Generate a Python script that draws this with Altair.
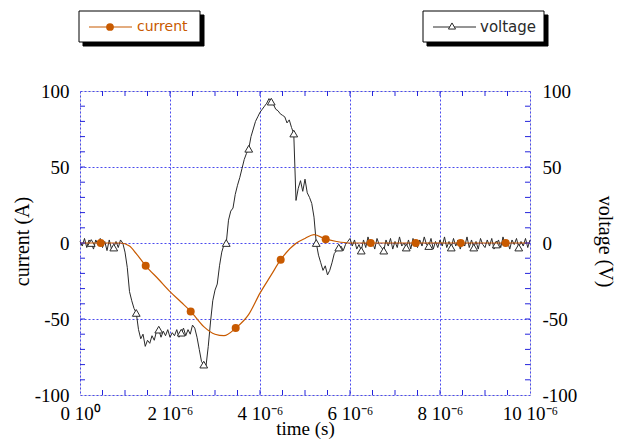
import altair as alt
import pandas as pd

# ---------------- data ----------------
# voltage trace, one sample every 0.05 microseconds from 0 to 10 us (V)
VOLT_STEP_US = 0.05
VOLTAGE = [
    1, -2, 3, -3, 2, 0, -4, 2, -1, 3,            # 0.00 - 0.45
    -3, 1, -5, 2, -4, -3, 1, -3, 2, 0,           # 0.50 - 0.95
    -6, -16, -32, -38, -43, -46, -57, -63, -60, -68,   # 1.00 - 1.45
    -64, -66, -61, -64, -58, -57, -62, -58, -61, -57,  # 1.50 - 1.95
    -62, -59, -61, -57, -62, -59, -56, -61, -57, -60,  # 2.00 - 2.45
    -54, -56, -62, -70, -78, -80, -81, -68, -52, -38,  # 2.50 - 2.95
    -31, -27, -15, -6, -1, 0, 15, 21, 23, 32,          # 3.00 - 3.45
    38, 43, 49, 55, 59, 62, 70, 75, 80, 83,            # 3.50 - 3.95
    86, 88, 90, 92, 95, 93, 91, 88, 87, 85,            # 4.00 - 4.45
    84, 83, 79, 81, 76, 72, 28, 36, 41, 34,            # 4.50 - 4.95
    42, 33, 30, 26, 17, 0, -8, -13, -18, -15,          # 5.00 - 5.45
    -21, -18, -13, -7, -5, -3, -2, -5, -1, 1,          # 5.50 - 5.95
    3, -2, 2, -4, -1, -5, 2, -3, 4, -2,                # 6.00 - 6.45
    1, -4, 3, -1, -3, -5, 2, -2, 3, -4,                # 6.50 - 6.95
    1, -3, 4, -2, 0, -3, 2, -4, 3, -1,                 # 7.00 - 7.45
    -3, 2, -2, 4, -1, -2, 3, -4, 1, -3,                # 7.50 - 7.95
    2, -2, 4, -3, 1, -3, 3, -2, 2, -4,                 # 8.00 - 8.45
    1, -2, 4, -3, 2, -3, 1, -4, 3, -1,                 # 8.50 - 8.95
    -3, 2, -2, 3, -4, -1, 2, -3, 4, -2,                # 9.00 - 9.45
    1, -4, 2, -1, 3, -3, 1, -2, 3, -3,                 # 9.50 - 9.95
    2,                                                 # 10.00
]
VOLT_MARK_FIRST = 5     # first sample carrying a triangle
VOLT_MARK_EVERY = 10    # a triangle every 10 samples (0.5 us)

# current trace (A), smooth curve
CUR_T = [0, 0.46, 0.9, 1.1, 1.25, 1.46, 1.75, 2.0, 2.25, 2.46, 2.75, 3.0, 3.2,
         3.46, 3.75, 4.0, 4.25, 4.46, 4.81, 5.0, 5.2, 5.46, 5.7, 6.0, 6.46,
         7.46, 8.46, 9.46, 10.0]
CUR_V = [0, 0, 0, -2, -7, -15, -24, -32, -39, -45, -55, -60, -61,
         -56, -47, -33, -21, -11, 0, 3, 5.5, 2.5, 1, 0, 0,
         0, 0, 0, 0]
CUR_MARK_T = [0.46, 1.46, 2.46, 3.46, 4.46, 5.46, 6.46, 7.46, 8.46, 9.46]

X_TICKS = [0, 2, 4, 6, 8, 10]
X_MINOR = [0.5, 1, 1.5, 2.5, 3, 3.5, 4.5, 5, 5.5, 6.5, 7, 7.5, 8.5, 9, 9.5]
Y_TICKS = [-100, -50, 0, 50, 100]
Y_MINOR = [-90, -80, -70, -60, -40, -30, -20, -10, 10, 20, 30, 40, 60, 70, 80, 90]

# ---------------- styling ----------------
ORANGE = "#c85a00"
DARK = "#2a2a2a"
BLUE = "#2424dc"
GRID = "#4a4aee"
SERIF = "Liberation Serif"
LFS = 19   # tick label size
TFS = 20   # axis title size
W, H = 450, 304

vdf = pd.DataFrame({
    "t": [round(i * VOLT_STEP_US, 2) for i in range(len(VOLTAGE))],
    "v": VOLTAGE,
})
vdf["mark"] = [(i - VOLT_MARK_FIRST) % VOLT_MARK_EVERY == 0 for i in range(len(VOLTAGE))]
cdf = pd.DataFrame({"t": CUR_T, "v": CUR_V})
cmdf = cdf[cdf["t"].isin(CUR_MARK_T)]

xscale = alt.Scale(domain=[0, 10], nice=False, zero=False)
yscale = alt.Scale(domain=[-100, 100], nice=False, zero=False)

x_axis = alt.Axis(
    values=X_TICKS, grid=True, gridColor=GRID, gridDash=[2, 2], gridWidth=1,
    ticks=False, domain=False, labelFlush=False,
    labelExpr="datum.value == 0 ? '0 10\u2070' : datum.value + ' 10\u207b\u2076'",
    labelFont=SERIF, labelFontSize=LFS, labelColor="black", labelPadding=9,
    title="time (s)", titleFont=SERIF, titleFontSize=19, titleFontWeight="normal",
    titleColor="black", titleX=W / 2, titleY=33, titleBaseline="middle",
)
X = alt.X("t:Q", scale=xscale, axis=x_axis)

left_axis = alt.Axis(
    orient="left", values=Y_TICKS, grid=True, gridColor=GRID, gridDash=[2, 2],
    gridWidth=1, ticks=False, domain=False, labelFlush=False,
    labelExpr="'' + datum.value",
    labelFont=SERIF, labelFontSize=LFS, labelColor="black", labelPadding=11,
    title="current (A)", titleFont=SERIF, titleFontSize=TFS, titleFontWeight="normal",
    titleColor="black", titleAngle=-90, titleX=-58, titleY=150,
    titleBaseline="middle", titleAlign="center",
)
right_axis = alt.Axis(
    orient="right", values=Y_TICKS, grid=False, ticks=False, domain=False,
    labelFlush=False, labelExpr="'' + datum.value",
    labelFont=SERIF, labelFontSize=LFS, labelColor="black", labelPadding=12,
    title="voltage (V)", titleFont=SERIF, titleFontSize=TFS, titleFontWeight="normal",
    titleColor="black", titleAngle=90, titleX=74, titleY=150,
    titleBaseline="middle", titleAlign="center",
)

volt_line = alt.Chart(vdf).mark_line(color=DARK, strokeWidth=1).encode(
    x=X, y=alt.Y("v:Q", scale=yscale, axis=right_axis)
)
volt_pts = alt.Chart(vdf).transform_filter("datum.mark").mark_point(
    shape="triangle-up", filled=True, fill="white", stroke=DARK, strokeWidth=1,
    size=60, opacity=1
).encode(x=X, y=alt.Y("v:Q", scale=yscale, axis=None))

cur_line = alt.Chart(cdf).mark_line(color=ORANGE, strokeWidth=1.2, interpolate="monotone").encode(
    x=X, y=alt.Y("v:Q", scale=yscale, axis=left_axis)
)
cur_pts = alt.Chart(cmdf).mark_circle(color=ORANGE, size=64, opacity=1).encode(
    x=X, y=alt.Y("v:Q", scale=yscale, axis=None)
)

# inward tick marks on the four sides
xt = pd.DataFrame({"t": X_MINOR + X_TICKS[1:-1]})
yt = pd.DataFrame({"v": Y_MINOR + [-50, 0, 50]})
top_ticks = alt.Chart(xt).mark_rule(color=BLUE, strokeWidth=1).encode(
    x=X, y=alt.value(0), y2=alt.value(5))
bot_ticks = alt.Chart(xt).mark_rule(color=BLUE, strokeWidth=1).encode(
    x=X, y=alt.value(H - 5), y2=alt.value(H))
left_ticks = alt.Chart(yt).mark_rule(color=BLUE, strokeWidth=1).encode(
    y=alt.Y("v:Q", scale=yscale, axis=None), x=alt.value(0), x2=alt.value(5))
right_ticks = alt.Chart(yt).mark_rule(color=BLUE, strokeWidth=1).encode(
    y=alt.Y("v:Q", scale=yscale, axis=None), x=alt.value(W - 5), x2=alt.value(W))

# legend boxes above the plot
one = pd.DataFrame({"k": [0]})
def box(x0, x1, y0, y1, fill, stroke):
    return alt.Chart(one).mark_rect(fill=fill, stroke=stroke, strokeWidth=1).encode(
        x=alt.value(x0), x2=alt.value(x1), y=alt.value(y0), y2=alt.value(y1))

LEG_Y = -64
legend = [
    box(3, 124, -76, -45, "black", "black"),
    box(-1, 120, -80, -49, "white", "black"),
    alt.Chart(one).mark_rule(color=ORANGE, strokeWidth=1.2).encode(
        x=alt.value(9), x2=alt.value(52), y=alt.value(LEG_Y)),
    alt.Chart(one).mark_circle(color=ORANGE, size=60, opacity=1).encode(
        x=alt.value(30), y=alt.value(LEG_Y)),
    alt.Chart(one).mark_text(align="left", baseline="middle", font="DejaVu Sans",
                             fontSize=14, color=ORANGE).encode(
        x=alt.value(57), y=alt.value(LEG_Y), text=alt.value("current")),
    box(347, 468, -76, -45, "black", "black"),
    box(343, 464, -80, -49, "white", "black"),
    alt.Chart(one).mark_rule(color=DARK, strokeWidth=1).encode(
        x=alt.value(353), x2=alt.value(396), y=alt.value(LEG_Y)),
    alt.Chart(one).mark_point(shape="triangle-up", filled=True, fill="white",
                              stroke=DARK, strokeWidth=1, size=50, opacity=1).encode(
        x=alt.value(372), y=alt.value(LEG_Y - 1)),
    alt.Chart(one).mark_text(align="left", baseline="middle", font="DejaVu Sans",
                             fontSize=15, color=DARK).encode(
        x=alt.value(400), y=alt.value(LEG_Y), text=alt.value("voltage")),
]

chart = alt.layer(
    volt_line, volt_pts, cur_line, cur_pts,
    top_ticks, bot_ticks, left_ticks, right_ticks, *legend
).resolve_scale(y="independent").properties(
    width=W, height=H,
    autosize=alt.AutoSizeParams(type="none"),
    padding={"left": 72, "top": 83, "right": 87, "bottom": 45},
).configure_view(stroke=BLUE, strokeWidth=1.2).configure(background="white")

chart.save("out.html", embed_options={"renderer": "svg", "actions": False})
